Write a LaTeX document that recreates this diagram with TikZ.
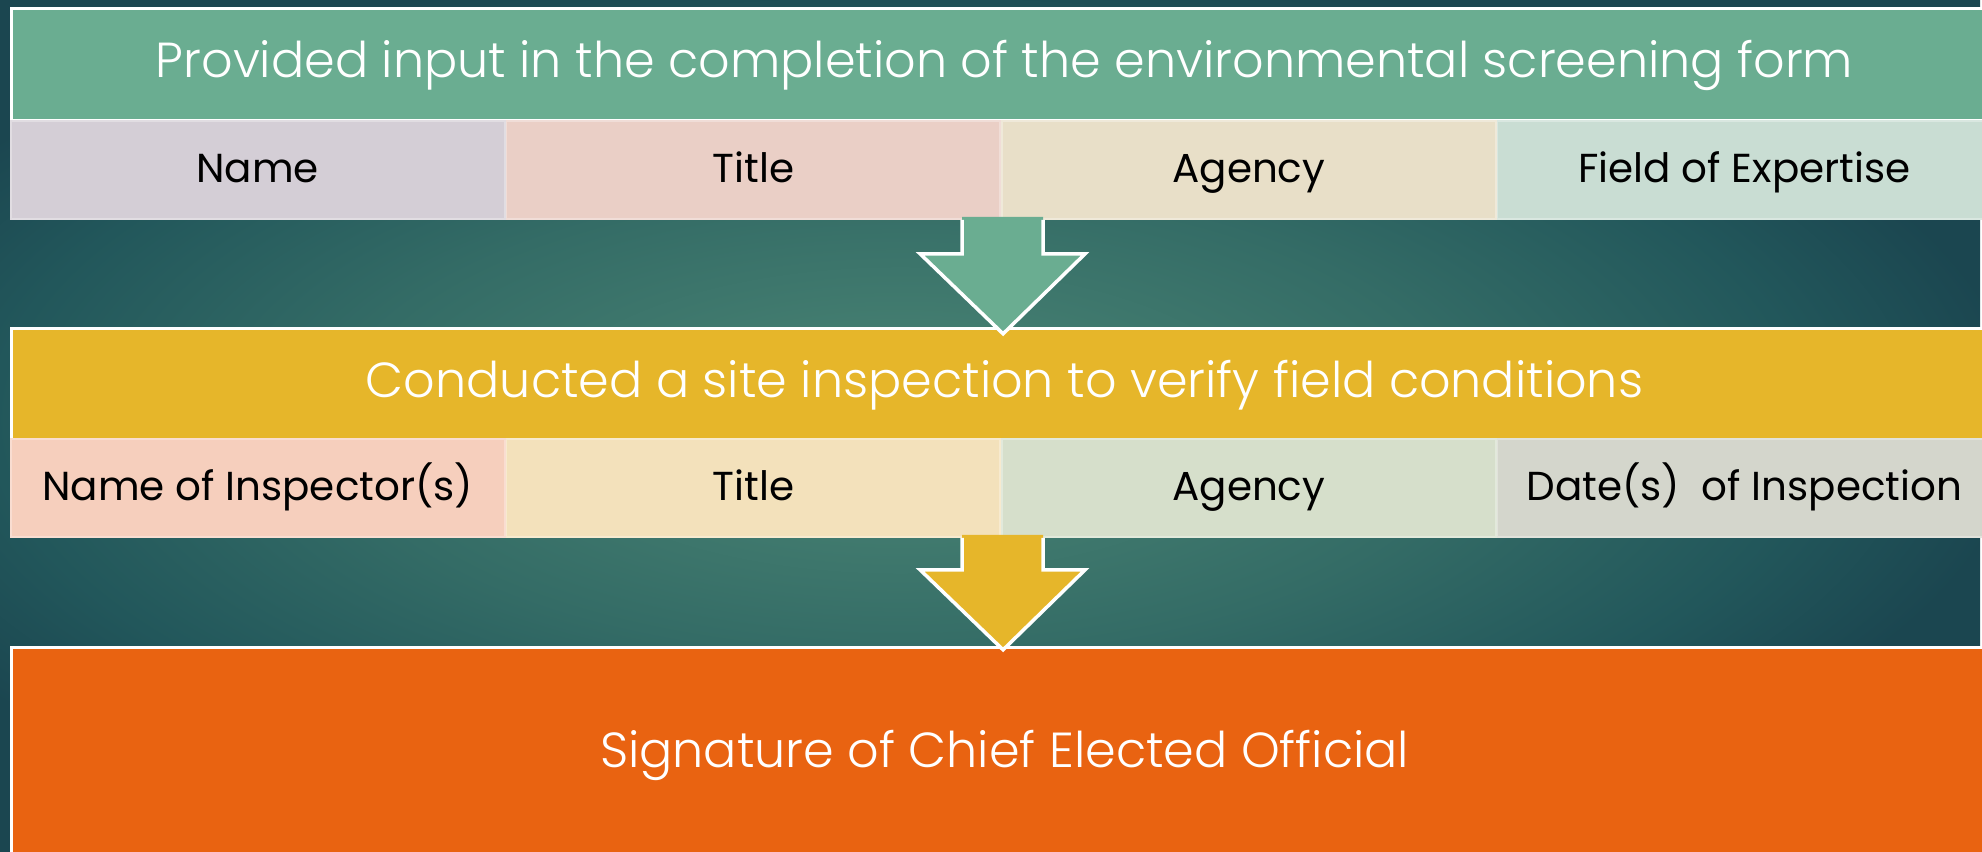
\documentclass[tikz,border=0pt]{standalone}
\usepackage{fontspec}
\setmainfont{Poppins}
\IfFontExistsTF{Poppins Light}{\newfontfamily\thinfont{Poppins Light}}{\newfontfamily\thinfont{Poppins}}
\usetikzlibrary{positioning,calc}

\definecolor{bgdark}{HTML}{1B4650}
\definecolor{bgedge}{HTML}{22575B}
\definecolor{bgmid}{HTML}{346C66}
\definecolor{bglight}{HTML}{457F71}
\definecolor{hdrgreen}{HTML}{6AAD91}
\definecolor{hdryellow}{HTML}{E6B62A}
\definecolor{sigorange}{HTML}{E96311}
\definecolor{nameA}{HTML}{D4CED6}
\definecolor{titleA}{HTML}{EACFC6}
\definecolor{agencyA}{HTML}{E8DFC8}
\definecolor{fieldA}{HTML}{C9DDD3}
\definecolor{nameB}{HTML}{F6CFBD}
\definecolor{titleB}{HTML}{F3E1BB}
\definecolor{agencyB}{HTML}{D6DFCB}
\definecolor{dateB}{HTML}{D4D6CC}

\pgfdeclareradialshading{backdrop}{\pgfpoint{0bp}{0bp}}{%
  color(0bp)=(bglight); color(4bp)=(bglight); color(13bp)=(bgmid);
  color(21bp)=(bgedge); color(26bp)=(bgdark); color(50bp)=(bgdark)}

\tikzset{
  header/.style={draw=white, line width=0.85pt, text=white, inner sep=0pt,
    font=\thinfont\fontsize{14}{16}\selectfont, text height=1em, text depth=0.25em,
    minimum width=19.85cm, minimum height=1.12cm, anchor=north west},
  cell/.style={inner sep=0pt, line width=0.5pt, text=black,
    font=\fontsize{11.5}{13}\selectfont, text height=0.95em, text depth=0.22em,
    minimum width=4.935cm, minimum height=0.98cm},
  blockarrow/.style={draw=white, line width=1pt, line join=miter},
}

\begin{document}
\begin{tikzpicture}[x=0.01cm, y=-0.01cm]
        \useasboundingbox (0,0) rectangle (1982,852);
        \shade[shading=backdrop] (-180,-30) rectangle (1980,870);

        % first step
        \node[header, fill=hdrgreen] (hdrA) at (10,7) {Provided input in the completion of the environmental screening form};
        \node[cell, fill=nameA, draw=nameA!70!white, anchor=north west] (nameA) at (10,120) {Name};
        \node[cell, fill=titleA, draw=titleA!70!white, right=0pt of nameA] (titleA) {Title};
        \node[cell, fill=agencyA, draw=agencyA!70!white, right=0pt of titleA] (agencyA) {Agency};
        \node[cell, fill=fieldA, draw=fieldA!70!white, right=0pt of agencyA] (fieldA) {Field of Expertise};

        % second step
        \node[header, fill=hdryellow] (hdrB) at (10,327) {Conducted a site inspection to verify field conditions};
        \node[cell, fill=nameB, draw=nameB!70!white, anchor=north west] (nameB) at (10,438) {Name of Inspector(s)};
        \node[cell, fill=titleB, draw=titleB!70!white, right=0pt of nameB] (titleB) {Title};
        \node[cell, fill=agencyB, draw=agencyB!70!white, right=0pt of titleB] (agencyB) {Agency};
        \node[cell, fill=dateB, draw=dateB!70!white, right=0pt of agencyB] (dateB) {Date(s)~ of Inspection};

        % signature
        \node[header, fill=sigorange, minimum height=2.14cm] (sigC) at (10,646) {Signature of Chief Elected Official};

        % arrows between the steps
        \coordinate (stemA) at ($(titleA.south east)+(-39,-3)$);
        \fill[hdrgreen] (stemA) -- ++(81,0) -- ++(0,37) -- ++(42,0) -- ++(-82,80) -- ++(-83,-80) -- ++(42,0) -- cycle;
        \draw[blockarrow] ($(stemA)+(0,3)$) -- ++(0,34) -- ++(-42,0) -- ++(83,80) -- ++(82,-80) -- ++(-42,0) -- ++(0,-34);

        \coordinate (stemB) at ($(titleB.south east)+(-39,-3)$);
        \fill[hdryellow] (stemB) -- ++(81,0) -- ++(0,35) -- ++(42,0) -- ++(-82,80) -- ++(-83,-80) -- ++(42,0) -- cycle;
        \draw[blockarrow] ($(stemB)+(0,3)$) -- ++(0,32) -- ++(-42,0) -- ++(83,80) -- ++(82,-80) -- ++(-42,0) -- ++(0,-32);

    \end{tikzpicture}
\end{document}
